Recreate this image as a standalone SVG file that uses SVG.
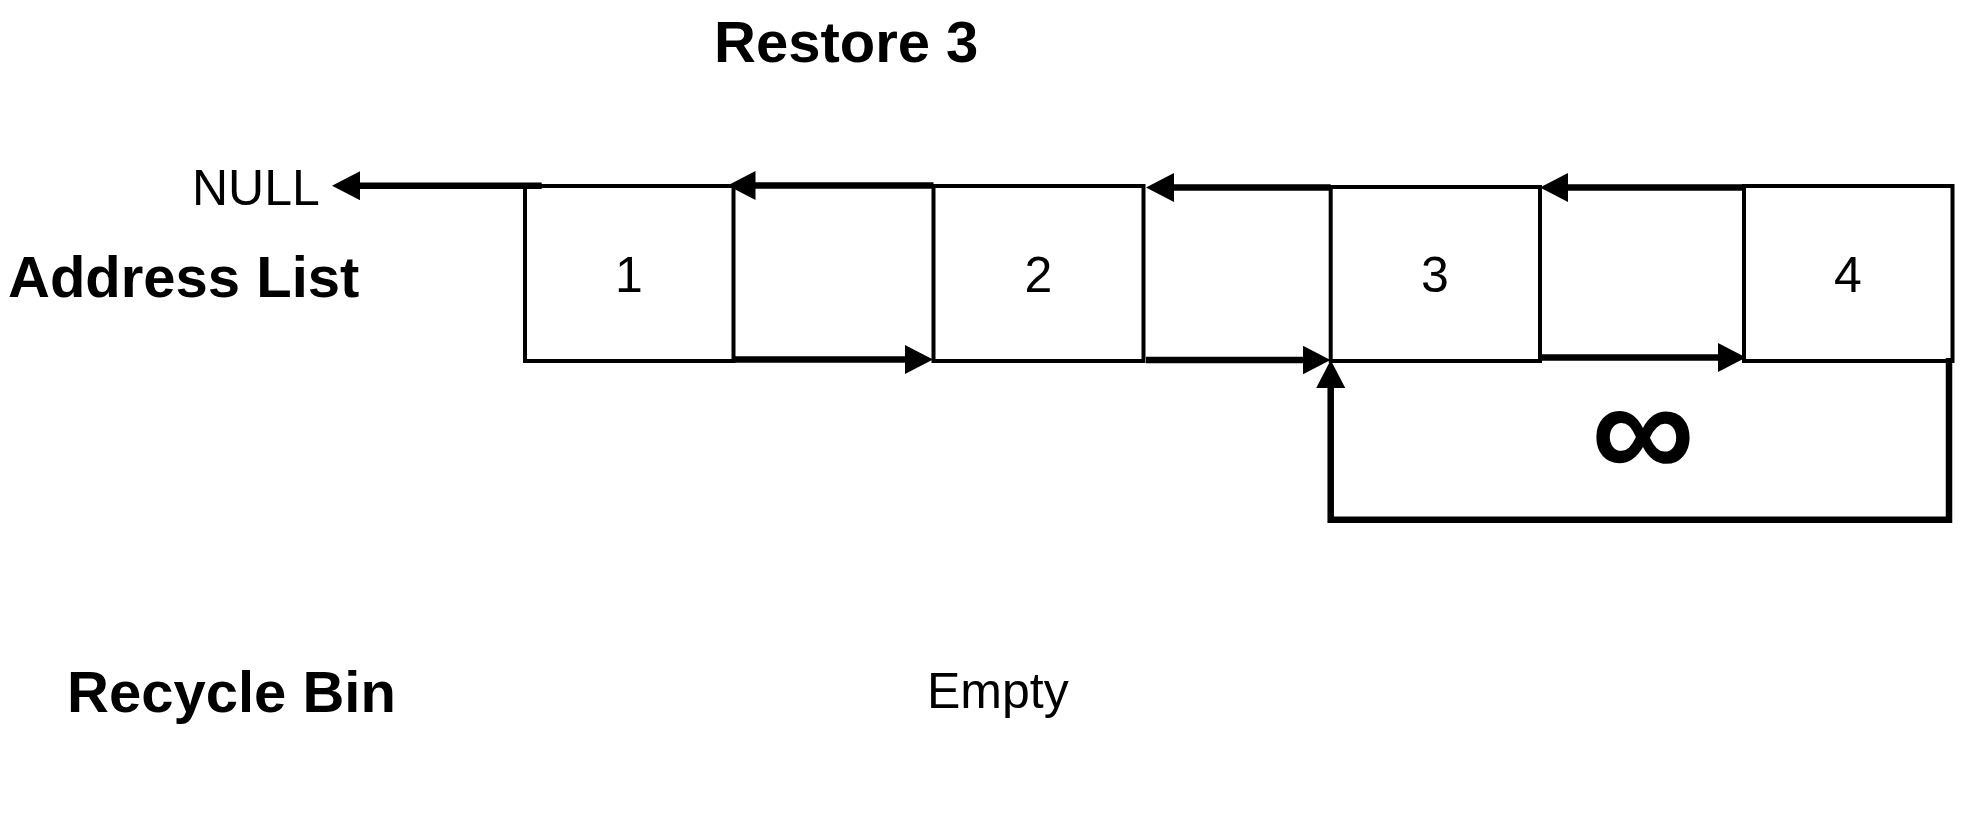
<svg xmlns="http://www.w3.org/2000/svg" width="1966" height="826" viewBox="0 0 1966 826">
<style>
.box{fill:#fff;stroke:#000;stroke-width:4}
.con{fill:none;stroke:#000;stroke-width:6.5}
.t{font-family:"Liberation Sans",Arial,Helvetica,sans-serif;fill:#000}
.b{font-weight:bold;font-size:58px}
.r{font-size:50px}
.n{font-size:50px;text-anchor:middle}
</style>
<defs>
<marker id="ah" markerUnits="userSpaceOnUse" markerWidth="28" markerHeight="29" viewBox="0 0 28 29" refX="1" refY="14.5" orient="auto">
<path d="M0,0 L28,14.5 L0,29 z" fill="#000"/>
</marker>
</defs>
<rect width="1966" height="826" fill="#fff"/>
<g id="title"><text class="t b" x="714" y="62">Restore 3</text></g>
<g id="address-list-label"><text class="t b" x="8" y="297">Address List</text></g>
<g id="recycle-bin-label"><text class="t b" x="67" y="712" font-size="57">Recycle Bin</text></g>
<g id="empty-label"><text class="t r" x="927" y="708">Empty</text></g>
<g id="null-label"><text class="t r" x="192" y="205">NULL</text></g>
<g id="node1"><rect class="box" x="525" y="186" width="208.5" height="175"/><text class="t n" x="629" y="292">1</text></g>
<g id="node2"><rect class="box" x="933.5" y="186" width="210" height="175"/><text class="t n" x="1038.5" y="292">2</text></g>
<g id="node3"><rect class="box" x="1330.7" y="187" width="209.3" height="174"/><text class="t n" x="1435" y="292">3</text></g>
<g id="node4"><rect class="box" x="1744" y="186" width="208.5" height="175"/><text class="t n" x="1848" y="292">4</text></g>
<g id="loop-label"><text class="t" x="1643" y="479" font-size="145" font-weight="bold" text-anchor="middle">∞</text></g>
<g id="connectors">
<line class="con" x1="541.7" y1="185.7" x2="359" y2="185.7" marker-end="url(#ah)"/>
<line class="con" x1="933.5" y1="185.5" x2="754.5" y2="185.5" marker-end="url(#ah)"/>
<line class="con" x1="733.5" y1="359.5" x2="906" y2="359.5" marker-end="url(#ah)"/>
<line class="con" x1="1330.7" y1="187.5" x2="1173" y2="187.5" marker-end="url(#ah)"/>
<line class="con" x1="1146" y1="360" x2="1303.5" y2="360" marker-end="url(#ah)"/>
<line class="con" x1="1744" y1="187.5" x2="1567" y2="187.5" marker-end="url(#ah)"/>
<line class="con" x1="1540" y1="357.5" x2="1719" y2="357.5" marker-end="url(#ah)"/>
<path class="con" d="M1949,358 V519.7 H1330.7 V387" marker-end="url(#ah)"/>
</g>
</svg>
